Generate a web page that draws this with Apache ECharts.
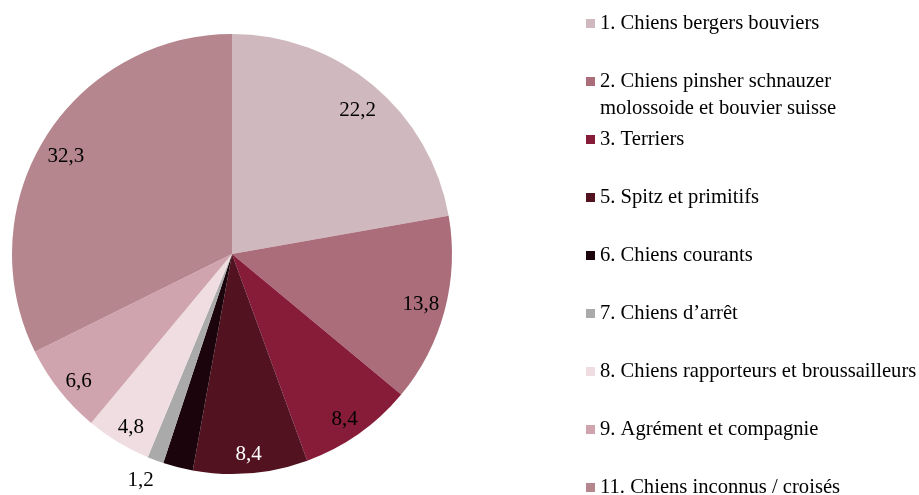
<!DOCTYPE html>
<html>
<head>
<meta charset="utf-8">
<script src="https://cdn.jsdelivr.net/npm/echarts@6/dist/echarts.min.js"></script>
<style>
  html, body { margin: 0; padding: 0; background: #fff; }
  #chart { width: 919px; height: 495px; }
</style>
</head>
<body>
<div id="chart"></div>
<script>
// Groupes de chiens (le nom 2 tient sur deux lignes dans la légende)
const categories = [
  '1. Chiens bergers bouviers',
  '2. Chiens pinsher schnauzer\nmolossoide et bouvier suisse',
  '3. Terriers',
  '5. Spitz et primitifs',
  '6. Chiens courants',
  '7. Chiens d\u2019arrêt',
  '8. Chiens rapporteurs et broussailleurs',
  '9. Agrément et compagnie',
  '11. Chiens inconnus / croisés'
];
const values = [22.2, 13.8, 8.4, 8.4, 2.2, 1.2, 4.8, 6.6, 32.3];
const colors = ['#cfb9bf', '#ab6d7a', '#861c38', '#521220', '#1c040c', '#aaaaaa', '#efdde2', '#d0a4ae', '#b5868d'];

const FONT = '"Liberation Serif", "Times New Roman", serif';
const FS = 21;
const LEGEND_FS = 20.6;
const center = [232, 254];
const R = 220;

const chart = echarts.init(document.getElementById('chart'));

// Pie slices
const pieData = categories.map((name, i) => ({
  name,
  value: values[i],
  itemStyle: { color: colors[i] }
}));

// Transparent ring on top of the pie, only used to place the value labels near the rim
const labelData = categories.map((name, i) => {
  const d = { name, value: values[i] };
  if (i === 4) d.label = { show: false };
  if (i === 3) d.label = { color: '#ffffff' };
  if (i === 5) d.label = { position: 'outside', distanceToLabelLine: -5 };
  return d;
});

chart.setOption({
  animation: false,
  textStyle: { fontFamily: FONT },
  legend: {
    orient: 'vertical',
    left: 586,
    top: 13,
    height: 560,
    padding: 0,
    itemWidth: 9,
    itemHeight: 9,
    itemGap: 37,
    icon: 'rect',
    selectedMode: false,
    data: categories,
    formatter: name => name.split('\n')[0],
    textStyle: { fontFamily: FONT, fontSize: LEGEND_FS, color: '#000', lineHeight: 14 }
  },
  title: {
    text: categories[1].split('\n')[1],
    left: 600,
    top: 98,
    padding: 0,
    textStyle: { fontFamily: FONT, fontSize: LEGEND_FS, fontWeight: 'normal', color: '#000', lineHeight: 22 }
  },
  series: [
    {
      name: 'groupes',
      type: 'pie',
      center,
      radius: [0, R],
      startAngle: 90,
      clockwise: true,
      silent: true,
      label: { show: false },
      labelLine: { show: false },
      data: pieData
    },
    {
      name: 'étiquettes',
      type: 'pie',
      center,
      radius: [R - 55, R],
      startAngle: 90,
      clockwise: true,
      silent: true,
      avoidLabelOverlap: false,
      itemStyle: { color: 'rgba(0,0,0,0)' },
      label: {
        show: true,
        position: 'inside',
        fontFamily: FONT,
        fontSize: FS,
        color: '#000',
        distanceToLabelLine: 0,
        formatter: p => String(p.value).replace('.', ',')
      },
      labelLine: { show: false, length: 19, length2: 0 },
      // nudge the numbers down a little, like the original
      labelLayout: p => ({ dy: p.dataIndex === 1 ? 0 : p.dataIndex === 5 ? 2 : 6 }),
      data: labelData
    }
  ]
});
</script>
</body>
</html>
